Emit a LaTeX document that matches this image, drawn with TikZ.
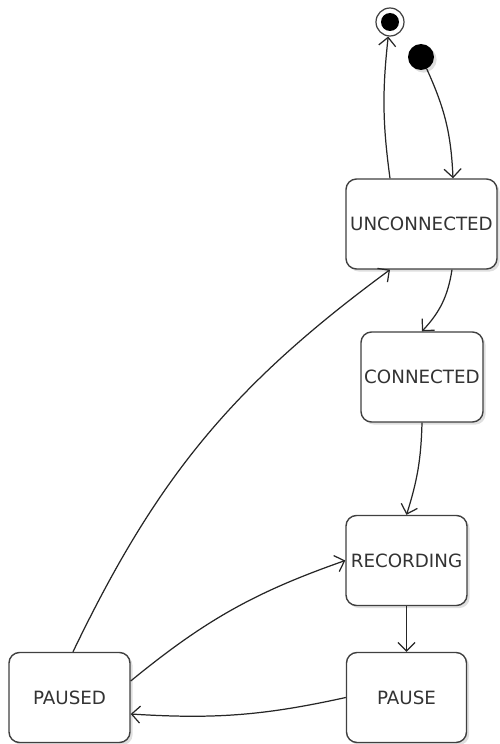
\documentclass[tikz,border=0pt]{standalone}
\usepackage{fontspec}
\setmainfont{DejaVu Sans}
\usetikzlibrary{arrows.meta}
\usetikzlibrary{shadows}

\begin{document}
\begin{tikzpicture}[>={Straight Barb[length=1.7mm, width=3.4mm]}]
        %% styles
        \tikzset{
            statebox/.style={draw=black!75, line width=0.8pt, rounded corners=6pt,
                fill=white, minimum width=2.42cm, minimum height=1.8cm,
                inner sep=0pt, text=black!80,
                font=\fontsize{10.4}{12}\selectfont,
                drop shadow={opacity=0.25, shadow xshift=1.5pt, shadow yshift=-1.5pt}},
            startdot/.style={circle, fill=black, minimum size=0.52cm, inner sep=0pt,
                drop shadow={opacity=0.25, shadow xshift=1.5pt, shadow yshift=-1.5pt}},
            endring/.style={circle, draw=black!75, line width=0.7pt, fill=white,
                minimum size=0.56cm, inner sep=0pt},
            enddot/.style={circle, fill=black, minimum size=0.36cm, inner sep=0pt},
            trans/.style={->, draw=black!85, line width=0.7pt}
        }

        %% frame
        \useasboundingbox (0,0) rectangle (10,14.88);

        %% define points
        \def\Xr{8.13};
        \def\Yb{0.93};

        %% pseudo states
        \node[endring] (final) at (7.8,14.44) {};
        \node[enddot] (finaldot) at (final) {};
        \node[startdot] (init) at (8.42,13.74) {};

        %% states
        \node[statebox, minimum width=3.02cm] (unc) at (8.43,10.40) {UNCONNECTED};
        \node[statebox, minimum width=2.44cm] (conn) at (8.44,7.34) {CONNECTED};
        \node[statebox] (rec) at (\Xr,3.67) {RECORDING};
        \node[statebox, minimum width=2.40cm] (pause) at (\Xr,\Yb) {PAUSE};
        \node[statebox] (paused) at (1.39,\Yb) {PAUSED};

        %% transitions
        \draw[trans] (init) to[bend left=11] ([xshift=0.63cm]unc.north);
        \draw[trans] ([xshift=-0.63cm]unc.north) to[bend left=7] (final);
        \draw[trans] ([xshift=0.61cm]unc.south) to[bend left=17] (conn.north);
        \draw[trans] (conn.south) to[bend left=8] (rec.north);
        \draw[trans] (rec.south) -- (pause.north);
        \draw[trans] (pause.west) to[bend left=8] ([yshift=-0.33cm]paused.east);
        \draw[trans] ([yshift=0.33cm]paused.east) to[bend left=10] (rec.west);
        \draw[trans] ([xshift=0.07cm]paused.north) to[bend left=14] ([xshift=-0.63cm]unc.south);
    \end{tikzpicture}
\end{document}
